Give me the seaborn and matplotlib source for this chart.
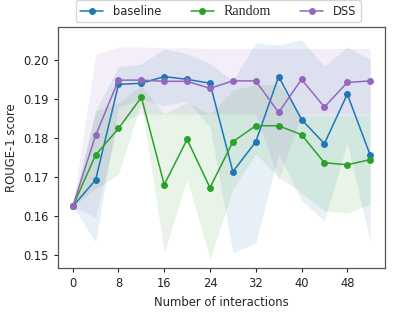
import numpy as np
import pandas as pd
import seaborn as sns
import matplotlib.pyplot as plt

# x positions (number of interactions)
steps = [0, 4, 8, 12, 16, 20, 24, 28, 32, 36, 40, 44, 48, 52]

# mean ROUGE-1 per method
baseline = [0.1625, 0.1693, 0.1938, 0.1941, 0.1958, 0.1951, 0.1941,
            0.1714, 0.1791, 0.1958, 0.1848, 0.1786, 0.1913, 0.1757]
random_ = [0.1625, 0.1757, 0.1825, 0.1905, 0.1681, 0.1797, 0.1673,
           0.1791, 0.1832, 0.1832, 0.1809, 0.1737, 0.1732, 0.1745]
dss = [0.1625, 0.1807, 0.1949, 0.1949, 0.1946, 0.1946, 0.1928,
       0.1947, 0.1947, 0.1866, 0.1951, 0.1880, 0.1943, 0.1947]

# confidence bands (lower / upper)
baseline_lo = [0.1625, 0.1534, 0.1880, 0.1900, 0.1883, 0.1896, 0.1829,
               0.1506, 0.1532, 0.1760, 0.1640, 0.1588, 0.1789, 0.1534]
baseline_hi = [0.1625, 0.1870, 0.1984, 0.1990, 0.2029, 0.2017, 0.1991,
               0.1947, 0.2045, 0.2039, 0.2052, 0.1985, 0.2034, 0.2002]
random_lo = [0.1625, 0.1670, 0.1708, 0.1891, 0.1507, 0.1695, 0.1490,
             0.1670, 0.1760, 0.1700, 0.1660, 0.1614, 0.1608, 0.1631]
random_hi = [0.1625, 0.1870, 0.1891, 0.1935, 0.1862, 0.1893, 0.1862,
             0.1924, 0.1937, 0.1938, 0.1859, 0.1859, 0.1859, 0.1859]
dss_lo = [0.1625, 0.1597, 0.1840, 0.1862, 0.1862, 0.1862, 0.1862,
          0.1862, 0.1862, 0.1693, 0.1862, 0.1862, 0.1862, 0.1862]
dss_hi = [0.1625, 0.2015, 0.2034, 0.2034, 0.2032, 0.2032, 0.2030,
          0.2030, 0.2030, 0.2030, 0.2030, 0.2030, 0.2030, 0.2030]

methods = ["baseline", "Random", "DSS"]
colors = ["#1f77b4", "#2ca02c", "#9467bd"]

df = pd.DataFrame({
    "step": steps * 3,
    "score": baseline + random_ + dss,
    "method": np.repeat(methods, len(steps)),
})

sns.set_style("ticks")
plt.rcParams["font.family"] = ["DejaVu Sans"]

fig, ax = plt.subplots(figsize=(3.99, 3.15), dpi=100)
fig.subplots_adjust(left=0.145, right=0.965, top=0.914, bottom=0.149)

bands = [(baseline_lo, baseline_hi), (random_lo, random_hi), (dss_lo, dss_hi)]
for (lo, hi), c in zip(bands, colors):
    ax.fill_between(steps, lo, hi, color=c, alpha=0.11, linewidth=0)

sns.lineplot(data=df, x="step", y="score", hue="method", hue_order=methods,
             palette=colors, marker="o", markersize=5, markeredgewidth=0,
             linewidth=1.1, ax=ax)

ax.set_xticks([0, 8, 16, 24, 32, 40, 48])
ax.set_yticks([0.15, 0.16, 0.17, 0.18, 0.19, 0.20])
ax.set_ylim(0.1467, 0.2085)
ax.tick_params(labelsize=8.3, length=3, width=0.8, colors="#222222")
ax.set_xlabel("Number of interactions", fontsize=8.4)
ax.set_ylabel("ROUGE-1 score", fontsize=8.4)
for s in ax.spines.values():
    s.set_color("#555555")
    s.set_linewidth(0.9)

leg = ax.legend(loc="lower center", bbox_to_anchor=(0.49, 1.01), ncol=3,
                fontsize=8.3, frameon=True, columnspacing=2.6,
                handlelength=2.0, borderaxespad=0.2)
leg.get_texts()[1].set_family("Liberation Serif")
leg.get_texts()[1].set_fontsize(10)

plt.savefig("out.png", dpi=100)
